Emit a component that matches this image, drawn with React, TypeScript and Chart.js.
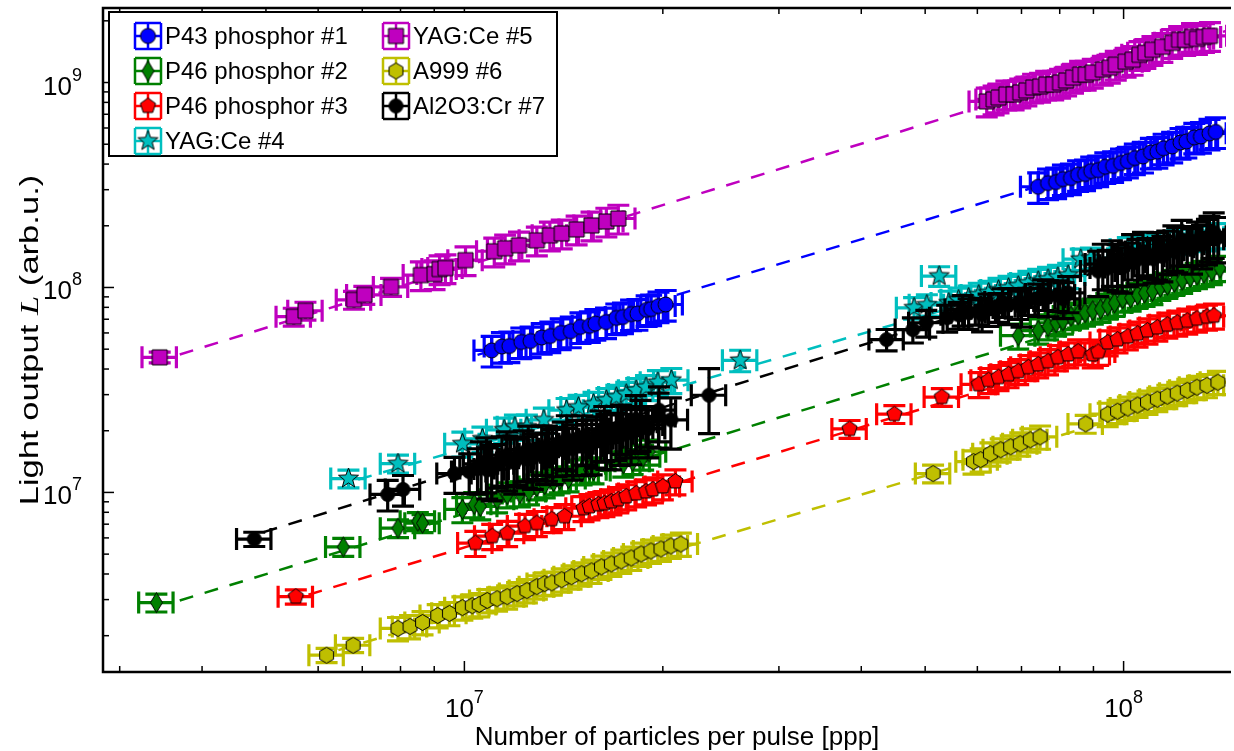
import React, { useEffect, useRef } from "react";
import { Chart, registerables } from "chart.js";

Chart.register(...registerables);

// ---------------- data ----------------
const seriesNames = ["P43 phosphor #1", "P46 phosphor #2", "P46 phosphor #3", "YAG:Ce #4", "YAG:Ce #5", "A999 #6", "Al2O3:Cr #7"];

const p43X = [1.10e7, 1.14e7, 1.17e7, 1.22e7, 1.26e7, 1.31e7, 1.35e7, 1.40e7, 1.45e7, 1.50e7, 1.55e7, 1.58e7, 1.64e7, 1.70e7, 1.74e7, 1.79e7, 1.83e7, 1.89e7, 1.92e7, 1.97e7, 2.02e7,
  7.42e7, 7.68e7, 7.90e7, 8.09e7, 8.32e7, 8.53e7, 8.74e7, 8.93e7, 9.15e7, 9.38e7, 9.64e7, 9.91e7, 1.015e8, 1.04e8, 1.07e8, 1.10e8, 1.125e8, 1.15e8, 1.185e8, 1.22e8, 1.245e8, 1.28e8, 1.31e8, 1.35e8, 1.38e8];
const p43Y = [4.93e7, 5.15e7, 5.18e7, 5.42e7, 5.48e7, 5.70e7, 5.80e7, 6.00e7, 6.12e7, 6.42e7, 6.50e7, 6.66e7, 6.78e7, 7.10e7, 7.18e7, 7.42e7, 7.45e7, 7.78e7, 7.85e7, 8.12e7, 8.26e7,
  3.10e8, 3.23e8, 3.27e8, 3.38e8, 3.42e8, 3.55e8, 3.58e8, 3.70e8, 3.74e8, 3.88e8, 3.92e8, 4.05e8, 4.13e8, 4.28e8, 4.36e8, 4.56e8, 4.60e8, 4.78e8, 4.88e8, 5.10e8, 5.16e8, 5.40e8, 5.45e8, 5.65e8, 5.74e8];

const p46aX = [3.41e6, 6.55e6, 7.93e6, 8.50e6, 8.64e6, 9.93e6, 1.035e7, 1.057e7, 1.121e7, 1.161e7, 1.214e7, 1.253e7, 1.288e7, 1.324e7, 1.366e7, 1.395e7, 1.439e7, 1.506e7, 1.548e7, 1.570e7, 1.742e7, 1.80e7, 1.867e7, 1.906e7,
  6.92e7, 7.42e7, 7.68e7, 7.90e7, 8.09e7, 8.32e7, 8.53e7, 8.74e7, 8.98e7, 9.23e7, 9.46e7, 9.69e7, 9.97e7, 1.025e8, 1.05e8, 1.076e8, 1.106e8, 1.137e8, 1.165e8, 1.194e8, 1.227e8, 1.262e8, 1.292e8, 1.324e8, 1.361e8, 1.40e8];
const p46aY = [2.90e6, 5.42e6, 6.69e6, 7.24e6, 7.08e6, 8.27e6, 8.75e6, 8.55e6, 9.25e6, 9.78e6, 9.89e6, 1.011e7, 1.069e7, 1.093e7, 1.131e7, 1.156e7, 1.169e7, 1.264e7, 1.292e7, 1.28e7, 1.382e7, 1.42e7, 1.494e7, 1.579e7,
  5.82e7, 6.16e7, 6.45e7, 6.73e7, 6.88e7, 7.25e7, 7.36e7, 7.53e7, 7.70e7, 7.85e7, 8.14e7, 8.41e7, 8.82e7, 8.90e7, 9.20e7, 9.41e7, 9.60e7, 1.006e8, 1.028e8, 1.063e8, 1.087e8, 1.124e8, 1.149e8, 1.175e8, 1.202e8, 1.243e8];

const p46bX = [5.55e6, 1.039e7, 1.102e7, 1.161e7, 1.236e7, 1.288e7, 1.357e7, 1.419e7, 1.516e7, 1.548e7, 1.597e7, 1.631e7, 1.671e7, 1.712e7, 1.760e7, 1.822e7, 1.886e7, 1.932e7, 2.00e7, 2.09e7,
  3.84e7, 4.49e7, 5.30e7,
  6.03e7, 6.24e7, 6.46e7, 6.69e7, 6.92e7, 7.17e7, 7.42e7, 7.68e7, 7.95e7, 8.24e7, 8.53e7, 8.98e7, 9.15e7,
  9.46e7, 9.79e7, 1.015e8, 1.05e8, 1.087e8, 1.125e8, 1.165e8, 1.206e8, 1.249e8, 1.292e8, 1.338e8, 1.371e8];
const p46bY = [3.10e6, 5.66e6, 6.12e6, 6.33e6, 6.85e6, 7.08e6, 7.40e6, 7.65e6, 8.37e6, 8.55e6, 8.75e6, 8.85e6, 9.04e6, 9.25e6, 9.56e6, 9.89e6, 1.011e7, 1.034e7, 1.069e7, 1.131e7,
  2.04e7, 2.41e7, 2.92e7,
  3.37e7, 3.53e7, 3.65e7, 3.77e7, 3.90e7, 4.08e7, 4.21e7, 4.36e7, 4.56e7, 4.71e7, 4.87e7, 4.71e7, 4.85e7,
  5.39e7, 5.57e7, 5.76e7, 5.95e7, 6.16e7, 6.37e7, 6.58e7, 6.73e7, 6.88e7, 7.04e7, 7.20e7, 7.28e7];

const yag4X = [6.67e6, 7.93e6, 9.93e6, 1.065e7, 1.149e7, 1.193e7, 1.244e7, 1.320e7, 1.429e7, 1.490e7, 1.570e7, 1.642e7, 1.700e7, 1.760e7, 1.822e7, 1.886e7, 1.966e7, 2.06e7,
  2.62e7,
  4.81e7, 5.03e7, 5.25e7, 5.43e7, 5.62e7, 5.82e7, 6.03e7, 6.24e7, 6.46e7, 6.69e7, 6.92e7, 7.17e7, 7.42e7, 7.68e7, 7.95e7, 8.24e7, 8.61e7, 8.92e7,
  1.015e8, 1.05e8, 1.087e8, 1.125e8, 1.165e8, 1.206e8, 1.249e8, 1.292e8, 1.338e8, 1.39e8];
const yag4Y = [1.169e7, 1.382e7, 1.727e7, 1.826e7, 2.02e7, 2.09e7, 2.09e7, 2.26e7, 2.52e7, 2.61e7, 2.70e7, 2.82e7, 2.92e7, 3.02e7, 3.15e7, 3.26e7, 3.45e7, 3.53e7,
  4.41e7,
  7.96e7, 8.23e7, 1.137e8, 8.41e7, 8.70e7, 8.90e7, 9.20e7, 9.41e7, 9.72e7, 9.94e7, 1.017e8, 1.051e8, 1.075e8, 1.099e8, 1.124e8, 1.149e8, 1.374e8, 1.39e8,
  1.536e8, 1.571e8, 1.589e8, 1.624e8, 1.642e8, 1.680e8, 1.698e8, 1.737e8, 1.756e8, 1.796e8];

const yag5X = [3.45e6, 5.51e6, 5.74e6, 6.80e6, 7.05e6, 7.74e6, 8.59e6, 9.01e6, 9.17e6, 9.36e6, 1.004e7, 1.110e7, 1.153e7, 1.210e7, 1.288e7, 1.348e7, 1.405e7, 1.480e7, 1.559e7, 1.642e7, 1.712e7,
  6.20e7, 6.35e7, 6.46e7, 6.64e7, 6.81e7, 6.97e7, 7.12e7, 7.29e7, 7.47e7, 7.63e7, 7.82e7, 8.01e7, 8.18e7, 8.38e7, 8.59e7, 8.76e7, 8.98e7, 9.30e7, 9.53e7, 9.73e7, 1.007e8, 1.032e8, 1.057e8, 1.079e8, 1.106e8, 1.145e8, 1.185e8, 1.214e8, 1.240e8, 1.270e8, 1.292e8, 1.324e8, 1.352e8];
const yag5Y = [4.56e7, 7.20e7, 7.70e7, 8.70e7, 9.20e7, 1.006e8, 1.149e8, 1.162e8, 1.229e8, 1.243e8, 1.359e8, 1.502e8, 1.553e8, 1.606e8, 1.698e8, 1.796e8, 1.836e8, 1.920e8, 2.008e8, 2.099e8, 2.171e8,
  8.09e8, 8.27e8, 8.46e8, 8.75e8, 8.75e8, 8.95e8, 9.15e8, 9.46e8, 9.56e8, 9.78e8, 9.78e8, 1.0e9, 1.023e9, 1.057e9, 1.093e9, 1.093e9, 1.118e9, 1.156e9, 1.182e9, 1.222e9, 1.264e9, 1.292e9, 1.366e9, 1.397e9, 1.445e9, 1.494e9, 1.562e9, 1.615e9, 1.615e9, 1.670e9, 1.633e9, 1.670e9, 1.689e9];

const a999X = [6.18e6, 6.78e6, 7.93e6, 8.27e6, 8.64e6, 9.11e6, 9.49e6, 9.93e6, 1.028e7, 1.053e7, 1.083e7, 1.121e7, 1.161e7, 1.202e7, 1.244e7, 1.288e7, 1.324e7, 1.357e7, 1.405e7, 1.454e7, 1.506e7, 1.559e7, 1.614e7, 1.671e7, 1.730e7, 1.791e7, 1.854e7, 1.919e7, 1.987e7, 2.057e7, 2.13e7,
  5.14e7,
  5.92e7, 6.07e7, 6.28e7, 6.51e7, 6.74e7, 6.97e7, 7.22e7, 7.47e7,
  8.76e7,
  9.46e7, 9.79e7, 1.015e8, 1.05e8, 1.087e8, 1.125e8, 1.165e8, 1.206e8, 1.249e8, 1.292e8, 1.338e8, 1.39e8];
const a999Y = [1.606e6, 1.796e6, 2.171e6, 2.22e6, 2.32e6, 2.51e6, 2.57e6, 2.74e6, 2.80e6, 2.84e6, 2.97e6, 3.03e6, 3.10e6, 3.21e6, 3.32e6, 3.47e6, 3.59e6, 3.62e6, 3.75e6, 3.88e6, 4.01e6, 4.14e6, 4.33e6, 4.48e6, 4.63e6, 4.79e6, 5.01e6, 5.18e6, 5.30e6, 5.48e6, 5.60e6,
  1.236e7,
  1.413e7, 1.445e7, 1.545e7, 1.615e7, 1.670e7, 1.727e7, 1.806e7, 1.867e7,
  2.16e7,
  2.41e7, 2.49e7, 2.58e7, 2.67e7, 2.76e7, 2.85e7, 2.95e7, 3.05e7, 3.15e7, 3.26e7, 3.33e7, 3.45e7];

const al2o3X = [4.80e6, 7.65e6, 8.07e6, 9.66e6, 1.017e7,
  1.047e7, 1.083e7, 1.121e7, 1.161e7, 1.202e7, 1.244e7, 1.288e7, 1.334e7, 1.38e7, 1.429e7, 1.48e7, 1.532e7, 1.586e7, 1.642e7, 1.70e7, 1.76e7, 1.822e7, 1.886e7, 1.973e7, 2.057e7,
  2.35e7,
  4.37e7, 4.79e7, 5.02e7, 5.40e7,
  5.62e7, 5.82e7, 6.03e7, 6.24e7, 6.46e7, 6.69e7, 6.92e7, 7.17e7, 7.42e7, 7.68e7, 7.95e7, 8.24e7,
  9.15e7, 9.46e7, 9.79e7, 1.015e8, 1.05e8, 1.087e8, 1.125e8, 1.165e8, 1.206e8, 1.249e8, 1.292e8, 1.338e8, 1.39e8,
  1.06e7, 1.10e7, 1.14e7, 1.19e7, 1.23e7, 1.27e7, 1.31e7, 1.36e7, 1.41e7, 1.46e7, 1.51e7, 1.56e7, 1.61e7, 1.67e7, 1.73e7, 1.79e7, 1.85e7,
  5.70e7, 6.10e7, 6.55e7, 7.00e7, 7.55e7, 8.10e7,
  9.30e7, 9.95e7, 1.07e8, 1.145e8, 1.225e8, 1.315e8, 1.37e8,
  1.08e7, 1.16e7, 1.25e7, 1.33e7, 1.43e7, 1.53e7, 1.63e7, 1.72e7, 1.82e7, 1.90e7, 1.97e7,
  9.60e7, 1.03e8, 1.11e8, 1.19e8, 1.27e8, 1.35e8];
const al2o3Y = [5.92e6, 9.78e6, 1.034e7, 1.236e7, 1.264e7,
  1.307e7, 1.29e7, 1.382e7, 1.45e7, 1.461e7, 1.46e7, 1.545e7, 1.62e7, 1.634e7, 1.63e7, 1.727e7, 1.80e7, 1.826e7, 1.85e7, 1.931e7, 2.05e7, 2.065e7, 2.135e7, 2.52e7, 2.26e7,
  2.98e7,
  5.57e7, 6.23e7, 6.73e7, 7.12e7,
  7.36e7, 7.53e7, 7.70e7, 7.87e7, 8.05e7, 8.23e7, 8.41e7, 8.60e7, 8.80e7, 8.99e7, 9.20e7, 9.41e7,
  1.202e8, 1.243e8, 1.285e8, 1.329e8, 1.374e8, 1.421e8, 1.469e8, 1.519e8, 1.571e8, 1.624e8, 1.680e8, 1.718e8, 1.756e8,
  1.38e7, 1.30e7, 1.47e7, 1.40e7, 1.56e7, 1.48e7, 1.66e7, 1.56e7, 1.75e7, 1.64e7, 1.86e7, 1.74e7, 1.95e7, 1.84e7, 2.10e7, 1.95e7, 2.20e7,
  7.80e7, 7.40e7, 8.50e7, 8.00e7, 9.30e7, 8.80e7,
  1.30e8, 1.25e8, 1.50e8, 1.42e8, 1.70e8, 1.62e8, 1.85e8,
  1.42e7, 1.52e7, 1.62e7, 1.52e7, 1.82e7, 1.68e7, 2.02e7, 1.88e7, 2.28e7, 2.05e7, 2.35e7,
  1.35e8, 1.45e8, 1.38e8, 1.60e8, 1.55e8, 1.78e8];
// relative y uncertainties of the Al2O3:Cr points
const al2o3YErr = [0.08, 0.17, 0.17, 0.2, 0.22,
  0.25, 0.28, 0.24, 0.3, 0.26, 0.28, 0.25, 0.3, 0.27, 0.26, 0.3, 0.25, 0.28, 0.3, 0.26, 0.28, 0.25, 0.22, 0.3, 0.28,
  0.35,
  0.12, 0.14, 0.15, 0.15,
  0.15, 0.17, 0.15, 0.18, 0.16, 0.2, 0.17, 0.15, 0.18, 0.2, 0.17, 0.2,
  0.25, 0.22, 0.26, 0.24, 0.25, 0.22, 0.26, 0.24, 0.25, 0.22, 0.24, 0.25, 0.25,
  0.28, 0.3, 0.27, 0.3, 0.28, 0.3, 0.27, 0.3, 0.26, 0.3, 0.27, 0.3, 0.28, 0.3, 0.27, 0.3, 0.28,
  0.17, 0.18, 0.16, 0.2, 0.17, 0.2,
  0.25, 0.25, 0.24, 0.25, 0.25, 0.24, 0.25,
  0.3, 0.3, 0.3, 0.28, 0.3, 0.28, 0.3, 0.28, 0.3, 0.28, 0.3,
  0.25, 0.25, 0.24, 0.25, 0.25, 0.25];

// relative uncertainties (cluster default, with smaller values for isolated points)
const xRelErr = [0.06, 0.06, 0.06, 0.06, 0.06, 0.06, 0.06];
const yRelErr = [0.17, 0.14, 0.14, 0.14, 0.16, 0.13, 0];
const yErrIsolated: number[][][] = [
  [],
  [[0, 0.1], [1, 0.1], [2, 0.1], [3, 0.1], [4, 0.1]],
  [[0, 0.08], [20, 0.1], [21, 0.1], [22, 0.1]],
  [[0, 0.1], [1, 0.1], [18, 0.12], [19, 0.12], [20, 0.12], [21, 0.11], [35, 0.12], [36, 0.12]],
  [[0, 0.06], [1, 0.1], [2, 0.1], [3, 0.1], [4, 0.1], [5, 0.1]],
  [[0, 0.08], [1, 0.08], [31, 0.1], [40, 0.1]],
  [],
];

// power-law fits (end points)
const fitStartX = [1.047e7, 3.70e6, 5.80e6, 6.90e6, 3.70e6, 6.44e6, 4.96e6];
const fitStartY = [4.69e7, 2.97e6, 3.17e6, 1.156e7, 4.71e7, 1.70e6, 6.40e6];
const fitEndX = [1.43e8, 1.43e8, 1.43e8, 1.43e8, 1.43e8, 1.43e8, 1.43e8];
const fitEndY = [5.90e8, 1.075e8, 7.20e7, 1.942e8, 1.786e9, 3.30e7, 1.877e8];

// axes
const X_MIN = 2.83e6, X_MAX = 1.43e8, Y_MIN = 1.33e6, Y_MAX = 2.31e9;
const xMajorTicks = [1e7, 1e8];
const xTickExp = ["7", "8"];
const xMinorTicks = [3e6, 4e6, 5e6, 6e6, 7e6, 8e6, 9e6, 2e7, 3e7, 4e7, 5e7, 6e7, 7e7, 8e7, 9e7];
const yMajorTicks = [1e7, 1e8, 1e9];
const yTickExp = ["7", "8", "9"];
const yMinorTicks = [2e6, 3e6, 4e6, 5e6, 6e6, 7e6, 8e6, 9e6, 2e7, 3e7, 4e7, 5e7, 6e7, 7e7, 8e7, 9e7, 2e8, 3e8, 4e8, 5e8, 6e8, 7e8, 8e8, 9e8, 2e9];

const xTitle = "Number of particles per pulse [ppp]";
const yTitleParts = ["Light output ", "L", " (arb.u.)"];

// ---------------- styles ----------------
const seriesColors = ["#0000ff", "#008000", "#ff0000", "#00bfbf", "#bf00bf", "#bfbf00", "#000000"];
const markerShapes = ["circle", "diamond", "pentagon", "star", "square", "hexagon", "smallcircle"];
const SANS = "'Liberation Sans', Arial, sans-serif";

function makeMarker(shape: string, fill: string): HTMLCanvasElement {
  const S = 25;
  const c = document.createElement("canvas");
  c.width = S;
  c.height = S;
  const g = c.getContext("2d") as CanvasRenderingContext2D;
  g.translate(S / 2, S / 2);
  g.beginPath();
  const poly = (n: number, r: number, inner: number) => {
    const m = inner > 0 ? n * 2 : n;
    for (let k = 0; k < m; k++) {
      const rr = inner > 0 && k % 2 === 1 ? r * inner : r;
      const ang = -Math.PI / 2 + (k * 2 * Math.PI) / m;
      const px = rr * Math.cos(ang), py = rr * Math.sin(ang);
      if (k === 0) g.moveTo(px, py); else g.lineTo(px, py);
    }
    g.closePath();
  };
  if (shape === "circle") g.arc(0, 0, 7.5, 0, Math.PI * 2);
  else if (shape === "smallcircle") g.arc(0, 0, 7, 0, Math.PI * 2);
  else if (shape === "square") g.rect(-7.5, -7.5, 15, 15);
  else if (shape === "diamond") { g.moveTo(0, -10); g.lineTo(6, 0); g.lineTo(0, 10); g.lineTo(-6, 0); g.closePath(); }
  else if (shape === "pentagon") poly(5, 8, 0);
  else if (shape === "hexagon") poly(6, 8, 0);
  else if (shape === "star") poly(5, 10.5, 0.42);
  g.fillStyle = fill;
  g.fill();
  g.lineWidth = 1;
  g.strokeStyle = "#000";
  g.stroke();
  return c;
}

const CAP = 11;

const errorBarPlugin = {
  id: "errorBars",
  beforeDatasetDraw(chart: any, args: any) {
    const ds = chart.data.datasets[args.index];
    if (!ds.errX) return;
    const { ctx, chartArea: a } = chart;
    const xs = chart.scales.x, ys = chart.scales.y;
    ctx.save();
    ctx.beginPath();
    ctx.rect(a.left, a.top, a.right - a.left, a.bottom - a.top);
    ctx.clip();
    ctx.strokeStyle = ds.errColor;
    ctx.lineWidth = 3.2;
    ctx.lineCap = "butt";
    ds.data.forEach((p: any, i: number) => {
      const px = xs.getPixelForValue(p.x), py = ys.getPixelForValue(p.y);
      const x0 = xs.getPixelForValue(p.x - ds.errX[i]);
      const x1 = xs.getPixelForValue(p.x + ds.errX[i]);
      const y0 = ys.getPixelForValue(p.y - ds.errY[i]);
      const y1 = ys.getPixelForValue(p.y + ds.errY[i]);
      ctx.beginPath();
      ctx.moveTo(x0, py); ctx.lineTo(x1, py);
      ctx.moveTo(px, y0); ctx.lineTo(px, y1);
      ctx.moveTo(x0, py - CAP); ctx.lineTo(x0, py + CAP);
      ctx.moveTo(x1, py - CAP); ctx.lineTo(x1, py + CAP);
      ctx.moveTo(px - CAP, y0); ctx.lineTo(px + CAP, y0);
      ctx.moveTo(px - CAP, y1); ctx.lineTo(px + CAP, y1);
      ctx.stroke();
    });
    ctx.restore();
  },
};

function makeAxesPlugin(markers: HTMLCanvasElement[]) {
  return {
    id: "mplAxes",
    afterDraw(chart: any) {
      const { ctx, chartArea: a } = chart;
      const xs = chart.scales.x, ys = chart.scales.y;
      ctx.save();
      ctx.strokeStyle = "#000";
      ctx.fillStyle = "#000";
      const seg = (x1: number, y1: number, x2: number, y2: number) => {
        ctx.beginPath(); ctx.moveTo(x1, y1); ctx.lineTo(x2, y2); ctx.stroke();
      };
      // ticks (inward)
      ctx.lineWidth = 1.5;
      xMajorTicks.forEach((v) => { const p = xs.getPixelForValue(v); seg(p, a.bottom, p, a.bottom - 11); seg(p, a.top, p, a.top + 11); });
      xMinorTicks.forEach((v) => { const p = xs.getPixelForValue(v); seg(p, a.bottom, p, a.bottom - 6); seg(p, a.top, p, a.top + 6); });
      yMajorTicks.forEach((v) => { const p = ys.getPixelForValue(v); seg(a.left, p, a.left + 11, p); });
      yMinorTicks.forEach((v) => { const p = ys.getPixelForValue(v); seg(a.left, p, a.left + 6, p); });
      // spines
      ctx.lineWidth = 2.5;
      ctx.beginPath();
      ctx.moveTo(a.right + 5, a.top);
      ctx.lineTo(a.left, a.top);
      ctx.lineTo(a.left, a.bottom);
      ctx.lineTo(a.right + 5, a.bottom);
      ctx.stroke();

      // tick labels
      const big = `26px ${SANS}`, small = `18px ${SANS}`;
      ctx.textAlign = "left";
      ctx.textBaseline = "alphabetic";
      xMajorTicks.forEach((v, i) => {
        const p = xs.getPixelForValue(v);
        ctx.font = big; const w1 = ctx.measureText("10").width;
        ctx.font = small; const w2 = ctx.measureText(xTickExp[i]).width;
        const x0 = p - (w1 + w2) / 2;
        ctx.font = big; ctx.fillText("10", x0, a.bottom + 45);
        ctx.font = small; ctx.fillText(xTickExp[i], x0 + w1, a.bottom + 31);
      });
      yMajorTicks.forEach((v, i) => {
        const p = ys.getPixelForValue(v);
        ctx.font = big; const w1 = ctx.measureText("10").width;
        ctx.font = small; const w2 = ctx.measureText(yTickExp[i]).width;
        const x0 = a.left - 21 - (w1 + w2);
        ctx.font = big; ctx.fillText("10", x0, p + 12);
        ctx.font = small; ctx.fillText(yTickExp[i], x0 + w1, p - 2);
      });

      // axis titles
      ctx.font = `26px ${SANS}`;
      ctx.textAlign = "center";
      ctx.fillText(xTitle, 677, 745);

      const fonts = [`26px ${SANS}`, `italic 26px 'Liberation Serif', 'DejaVu Serif', serif`, `26px ${SANS}`];
      const widths = yTitleParts.map((t, i) => { ctx.font = fonts[i]; return ctx.measureText(t).width; });
      const total = widths.reduce((s, w) => s + w, 0);
      ctx.save();
      ctx.translate(38, (a.top + a.bottom) / 2);
      ctx.rotate(-Math.PI / 2);
      ctx.scale(1.33, 1);
      ctx.textAlign = "left";
      let cx = -total / 2;
      yTitleParts.forEach((t, i) => { ctx.font = fonts[i]; ctx.fillText(t, cx, 0); cx += widths[i]; });
      ctx.restore();

      // legend
      const L = { left: 109, top: 12, right: 557, bottom: 156 };
      ctx.fillStyle = "#fff";
      ctx.fillRect(L.left, L.top, L.right - L.left, L.bottom - L.top);
      ctx.lineWidth = 2;
      ctx.strokeStyle = "#000";
      ctx.strokeRect(L.left, L.top, L.right - L.left, L.bottom - L.top);
      const rowY = [36, 71, 106, 141];
      const colIcon = [148, 396];
      const colText = [165, 413];
      ctx.font = `24px ${SANS}`;
      ctx.textAlign = "left";
      ctx.textBaseline = "middle";
      seriesNames.forEach((name, i) => {
        const col = i < 4 ? 0 : 1;
        const row = i < 4 ? i : i - 4;
        const cxi = colIcon[col], cyi = rowY[row];
        const h = 13;
        ctx.strokeStyle = seriesColors[i];
        ctx.lineWidth = 2.5;
        ctx.beginPath();
        ctx.moveTo(cxi - h, cyi); ctx.lineTo(cxi + h, cyi);
        ctx.moveTo(cxi, cyi - h); ctx.lineTo(cxi, cyi + h);
        ctx.moveTo(cxi - h, cyi - h); ctx.lineTo(cxi - h, cyi + h);
        ctx.moveTo(cxi + h, cyi - h); ctx.lineTo(cxi + h, cyi + h);
        ctx.moveTo(cxi - h, cyi - h); ctx.lineTo(cxi + h, cyi - h);
        ctx.moveTo(cxi - h, cyi + h); ctx.lineTo(cxi + h, cyi + h);
        ctx.stroke();
        const m = markers[i];
        ctx.drawImage(m, cxi - m.width / 2, cyi - m.height / 2);
        ctx.fillStyle = "#000";
        ctx.fillText(name, colText[col], cyi + 1);
      });
      ctx.restore();
    },
  };
}

export default function App() {
  const canvasRef = useRef<HTMLCanvasElement | null>(null);

  useEffect(() => {
    const canvas = canvasRef.current;
    if (!canvas) return;
    const xsAll = [p43X, p46aX, p46bX, yag4X, yag5X, a999X, al2o3X];
    const ysAll = [p43Y, p46aY, p46bY, yag4Y, yag5Y, a999Y, al2o3Y];
    const markers = markerShapes.map((s, i) => makeMarker(s, seriesColors[i]));

    const fitSets = seriesNames.map((_, i) => ({
      label: "fit " + i,
      data: [{ x: fitStartX[i], y: fitStartY[i] }, { x: fitEndX[i], y: fitEndY[i] }],
      showLine: true,
      borderColor: seriesColors[i],
      borderWidth: 2.5,
      borderDash: [14, 12],
      pointRadius: 0,
      fill: false,
      order: 100,
    }));

    const pointSets = seriesNames.map((name, i) => {
      const xs = xsAll[i], ys = ysAll[i];
      const rel = ys.map((_, k) => (i === 6 ? al2o3YErr[k] : yRelErr[i]));
      yErrIsolated[i].forEach(([k, e]) => { rel[k] = e; });
      return {
        label: name,
        data: xs.map((x, k) => ({ x, y: ys[k] })),
        showLine: false,
        pointStyle: markers[i],
        pointRadius: 7,
        backgroundColor: seriesColors[i],
        borderColor: "#000",
        errX: xs.map((x) => x * xRelErr[i]),
        errY: ys.map((y, k) => y * rel[k]),
        errColor: seriesColors[i],
        order: 20 - i,
      };
    });

    const chart = new Chart(canvas, {
      type: "scatter",
      data: { datasets: [...fitSets, ...pointSets] as any },
      options: {
        animation: false,
        responsive: true,
        maintainAspectRatio: false,
        events: [],
        layout: { padding: { left: 103, top: 3, right: 0, bottom: 79 } },
        scales: {
          x: { type: "logarithmic", min: X_MIN, max: X_MAX, display: false },
          y: { type: "logarithmic", min: Y_MIN, max: Y_MAX, display: false },
        },
        plugins: { legend: { display: false }, tooltip: { enabled: false } },
      },
      plugins: [errorBarPlugin, makeAxesPlugin(markers)],
    } as any);
    return () => chart.destroy();
  }, []);

  return (
    <div style={{ position: "absolute", left: 0, top: 0, width: 1234, height: 751, background: "#fff" }}>
      <canvas ref={canvasRef} />
    </div>
  );
}
